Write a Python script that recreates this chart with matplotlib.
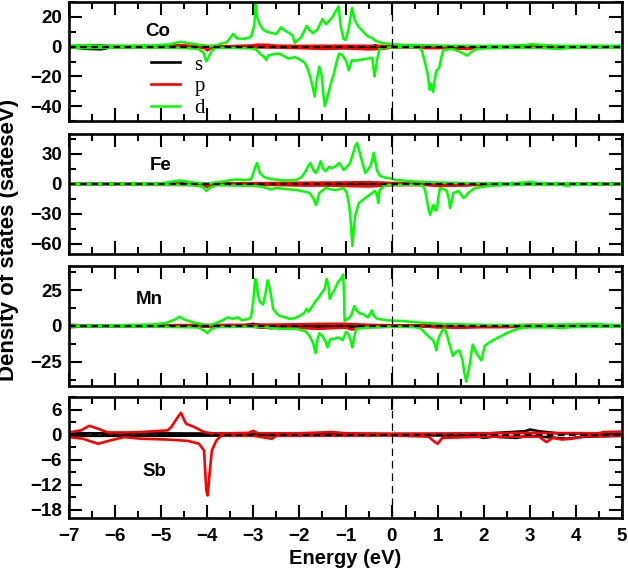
import numpy as np
import matplotlib
matplotlib.use('Agg')
from matplotlib import pyplot as plt
from matplotlib.ticker import MultipleLocator

plt.rcParams['font.family'] = ['Liberation Sans', 'DejaVu Sans']
plt.rcParams['font.weight'] = 'bold'
plt.rcParams['axes.labelweight'] = 'bold'

# (energy eV, DOS) points; spin up > 0, spin down < 0
co_s_up = [(-7, 0.3), (-6.7, 0.6), (-6.4, 0.8), (-6.1, 0.3), (-5, 0.1), (-0.4, 0.2), (-0.35, 0.9), (-0.3, 0.2), (5, 0.1)]
co_s_dn = [(-7, -0.3), (-6.6, -1.5), (-6.3, -1.8), (-6.1, -0.5), (-5, -0.1), (5, -0.1)]
co_p_up = [(-7, 0.2), (-6.5, 0.3), (-5, 0.3), (-4.6, 1.0), (-4.3, 0.5), (-3.5, 0.3), (-3.0, 0.8), (-2.9, 1.3),
           (-2.7, 1.2), (-2.5, 0.6), (-2.0, 0.5), (-1.0, 0.6), (-0.3, 0.5), (0, 0.3), (1, 0.2), (5, 0.2)]
co_p_dn = [(-7, -0.2), (-4.5, -0.3), (-4.05, -1.0), (-4.0, -2.5), (-3.9, -0.8), (-3.5, -0.3), (-2.5, -0.6),
           (-2.0, -1.0), (-1.5, -1.5), (-1.0, -1.2), (-0.5, -1.8), (-0.2, -1.5), (0, -0.6), (0.6, -0.5),
           (0.7, -1.0), (1.1, -1.0), (1.4, -1.4), (1.7, -1.6), (1.8, -0.5), (3, -0.3), (5, -0.3)]
co_d_up = [(-7.0, 0.5), (-6.6, 1.0), (-6.3, 0.5), (-5.8, 0.6), (-5.2, 0.8), (-4.8, 1.5), (-4.6, 3.2), (-4.45, 2.6),
           (-4.3, 1.8), (-4.1, 0.8), (-3.95, 0.3), (-3.8, 0.8), (-3.7, 2.0), (-3.57, 3.0), (-3.5, 6.0),
           (-3.44, 8.5), (-3.35, 5.5), (-3.2, 5.2), (-3.05, 6.5), (-2.98, 14), (-2.95, 28.5), (-2.92, 20),
           (-2.86, 15), (-2.8, 12), (-2.75, 10.5), (-2.65, 9.5), (-2.5, 8.5), (-2.4, 13), (-2.32, 11),
           (-2.24, 9.5), (-2.15, 7.5), (-2.1, 2.5), (-2.03, 4.5), (-1.96, 6.5), (-1.84, 14), (-1.78, 11),
           (-1.7, 9), (-1.6, 12), (-1.5, 18.5), (-1.42, 15), (-1.35, 17.5), (-1.28, 20), (-1.2, 24.5),
           (-1.15, 27), (-1.1, 13), (-1.04, 5), (-1.0, 4.5), (-0.93, 12), (-0.86, 26), (-0.8, 18),
           (-0.71, 13), (-0.64, 11), (-0.57, 8.5), (-0.5, 6.5), (-0.43, 6.0), (-0.35, 4.0), (-0.28, 3.0),
           (-0.15, 2.2), (0.0, 1.8), (0.2, 1.2), (0.5, 1.0), (0.9, 0.8), (1.3, 0.6), (2.0, 0.5), (2.5, 0.6),
           (2.9, 1.0), (3.05, 1.6), (3.3, 1.0), (3.8, 0.5), (4.3, 0.6), (5.0, 0.6)]
co_d_dn = [(-7.0, -0.5), (-6.6, -1.0), (-6.3, -0.8), (-5.5, -0.5), (-4.6, -0.8), (-4.2, -1.5), (-4.08, -4),
           (-4.02, -10), (-3.97, -7), (-3.9, -2.5), (-3.8, -0.8), (-3.5, -0.8), (-3.1, -1.2), (-3.0, -1.3),
           (-2.92, -2.5), (-2.85, -5), (-2.78, -6.5), (-2.72, -9), (-2.68, -6), (-2.55, -5), (-2.45, -4.7),
           (-2.35, -6), (-2.24, -8), (-2.15, -7.5), (-2.1, -7), (-2.0, -8.5), (-1.88, -11), (-1.82, -15),
           (-1.77, -20), (-1.72, -26), (-1.67, -33.5), (-1.62, -22), (-1.57, -13.5), (-1.52, -19),
           (-1.48, -32), (-1.45, -40), (-1.41, -36), (-1.37, -31), (-1.31, -24), (-1.25, -18), (-1.2, -11),
           (-1.14, -4.7), (-1.08, -5.5), (-1.04, -7), (-0.98, -10), (-0.93, -16), (-0.89, -12), (-0.86, -9),
           (-0.78, -9.5), (-0.71, -9), (-0.6, -8.5), (-0.5, -8), (-0.42, -7.5), (-0.37, -20), (-0.34, -14),
           (-0.31, -8), (-0.26, -1.5), (-0.14, -0.6), (0.3, -0.4), (0.6, -0.6), (0.66, -3), (0.72, -10),
           (0.78, -18), (0.83, -29), (0.86, -25), (0.9, -30.5), (0.94, -22), (0.97, -16), (1.01, -15),
           (1.04, -13.5), (1.08, -7), (1.12, -2.4), (1.3, -1.5), (1.45, -3), (1.55, -4.5), (1.64, -6),
           (1.72, -4), (1.8, -2), (2.0, -1.2), (2.6, -0.8), (3.2, -0.8), (3.6, -1.5), (3.9, -0.8),
           (4.5, -0.6), (5.0, -0.6)]

fe_s_up = [(-7, 0.3), (-3, 0.3), (0, 0.2), (5, 0.2)]
fe_s_dn = [(-7, -0.3), (-3, -0.3), (0, -0.2), (5, -0.2)]
fe_p_up = [(-7, 0.5), (-4.5, 0.5), (-3, 0.8), (-2, 1.2), (-1, 1.5), (-0.5, 1.8), (0, 1.0), (1, 0.3), (5, 0.2)]
fe_p_dn = [(-7, -0.5), (-4.1, -1.0), (-4.0, -3), (-3.9, -0.8), (-2.5, -1), (-2, -1.5), (-1.5, -1.5),
           (-1, -2.0), (-0.5, -2.5), (0, -1.2), (0.7, -1.0), (1, -1.8), (1.6, -1.5), (2, -0.5), (5, -0.3)]
fe_d_up = [(-7, 0.5), (-6, 0.5), (-5.0, 0.8), (-4.75, 2.5), (-4.6, 3.5), (-4.4, 2.0), (-4.2, 1.0), (-4.0, 0.5),
           (-3.8, 1.5), (-3.6, 3.0), (-3.4, 4.5), (-3.2, 4.0), (-3.05, 4.5), (-3.0, 11), (-2.95, 18),
           (-2.92, 21), (-2.86, 11), (-2.78, 7.5), (-2.72, 6), (-2.6, 5), (-2.43, 4), (-2.3, 3.5),
           (-2.07, 4), (-1.95, 7), (-1.86, 13), (-1.8, 19), (-1.76, 21), (-1.7, 14), (-1.64, 11),
           (-1.58, 17), (-1.54, 23), (-1.48, 15), (-1.43, 13), (-1.36, 17), (-1.29, 16), (-1.2, 18),
           (-1.14, 21), (-1.08, 17), (-1.04, 14), (-0.97, 17), (-0.9, 21), (-0.84, 30), (-0.79, 38),
           (-0.75, 41), (-0.7, 33), (-0.65, 24), (-0.57, 11), (-0.5, 15), (-0.46, 18), (-0.41, 26),
           (-0.39, 31), (-0.35, 22), (-0.32, 14), (-0.25, 8), (-0.15, 6.5), (-0.07, 6), (0.1, 4), (0.5, 2.5),
           (1.0, 1.5), (1.5, 1.0), (2.0, 0.8), (2.5, 0.7), (2.9, 1.5), (3.0, 2.2), (3.15, 1.0), (4.0, 0.6),
           (5.0, 0.5)]
fe_d_dn = [(-7, -0.5), (-5, -0.6), (-4.3, -1.0), (-4.1, -3), (-4.02, -7), (-3.95, -4), (-3.8, -1.2),
           (-3.4, -1.5), (-3.0, -2), (-2.85, -2.5), (-2.7, -4), (-2.64, -5.5), (-2.5, -4), (-2.3, -5),
           (-2.07, -6), (-1.9, -7.5), (-1.78, -9), (-1.7, -14), (-1.64, -21), (-1.6, -15), (-1.57, -9),
           (-1.43, -4), (-1.3, -5.5), (-1.21, -6), (-1.1, -5), (-1.04, -4), (-0.97, -9), (-0.93, -19),
           (-0.9, -30), (-0.88, -42), (-0.85, -62), (-0.82, -45), (-0.79, -32), (-0.71, -19), (-0.65, -17),
           (-0.57, -14), (-0.45, -10), (-0.36, -7), (-0.31, -12), (-0.29, -19), (-0.26, -6), (-0.14, -1.2),
           (0.3, -0.8), (0.6, -1.0), (0.69, -2.3), (0.73, -7), (0.76, -14), (0.8, -25), (0.84, -31),
           (0.88, -24), (0.91, -21), (0.95, -26), (0.98, -26), (1.02, -12), (1.05, -4), (1.13, -5),
           (1.2, -7), (1.24, -15), (1.27, -24), (1.31, -16), (1.34, -9), (1.45, -7), (1.5, -10),
           (1.56, -14), (1.62, -12), (1.66, -9), (1.75, -6), (1.81, -4), (2.1, -2), (2.5, -1), (3.0, -0.8),
           (3.7, -1), (3.8, -2), (3.9, -1), (4.5, -0.6), (5, -0.6)]

mn_s_up = [(-7, 0.8), (-6.8, 0.5), (-3.2, 0.5), (-3.0, 1.5), (-2.9, 0.8), (-2.5, 0.3), (5, 0.2)]
mn_s_dn = [(-7, -0.8), (-6.8, -0.5), (-3, -0.5), (-2.6, -1.5), (-2.4, -0.5), (5, -0.2)]
mn_p_up = [(-7, 0.3), (-3.0, 0.8), (-2.5, 1.0), (-2.0, 1.2), (-1.5, 1.5), (-1.0, 1.5), (-0.5, 0.8), (0, 0.5),
           (2.5, 0.3), (3, 0.8), (3.5, 0.6), (5, 0.3)]
mn_p_dn = [(-7, -0.3), (-3, -0.5), (-2.6, -1.2), (-2.2, -1.0), (-1.9, -1.5), (-1.6, -2.0), (-1.3, -1.5),
           (-1.0, -1.2), (-0.85, -2.5), (-0.7, -1.0), (0, -0.5), (0.8, -0.5), (1.0, -1.0), (1.5, -1.2),
           (2.0, -0.8), (2.5, -0.8), (3, -0.3), (5, -0.3)]
mn_d_up = [(-7, 0.3), (-6, 0.5), (-5.2, 1.0), (-4.9, 2.0), (-4.7, 4.5), (-4.6, 6.5), (-4.5, 4.5), (-4.3, 2.5),
           (-4.1, 1.2), (-4.0, 0.3), (-3.85, 1.5), (-3.7, 3.5), (-3.55, 6), (-3.45, 5), (-3.33, 6),
           (-3.25, 4), (-3.1, 5), (-3.05, 6), (-3.0, 18), (-2.96, 33), (-2.93, 30), (-2.9, 22), (-2.86, 17),
           (-2.79, 15), (-2.74, 22), (-2.69, 32), (-2.64, 26), (-2.6, 18), (-2.57, 12), (-2.5, 9),
           (-2.43, 7), (-2.3, 6), (-2.22, 5), (-2.1, 5.5), (-2.0, 7), (-1.9, 9), (-1.84, 12), (-1.8, 10),
           (-1.72, 14), (-1.66, 17), (-1.58, 20), (-1.5, 24), (-1.45, 26), (-1.41, 33), (-1.37, 28),
           (-1.34, 19), (-1.3, 22), (-1.26, 24), (-1.2, 28), (-1.16, 31), (-1.1, 33), (-1.05, 36),
           (-1.03, 20), (-1.02, 3.5), (-0.95, 5), (-0.88, 7), (-0.84, 11), (-0.81, 14), (-0.76, 11),
           (-0.7, 9), (-0.6, 8), (-0.52, 6), (-0.46, 9), (-0.43, 11), (-0.38, 7), (-0.31, 5), (-0.1, 4),
           (0.2, 3.5), (0.7, 2.2), (1.2, 1.3), (2.0, 0.8), (3.0, 0.6), (4.0, 1.2), (4.4, 1.5), (4.7, 0.8),
           (5.0, 0.8)]
mn_d_dn = [(-7, -0.3), (-5, -0.5), (-4.2, -1.0), (-4.05, -3.5), (-4.0, -5), (-3.93, -2.5), (-3.8, -0.8),
           (-3.3, -0.5), (-2.8, -0.6), (-2.43, -2), (-2.07, -2), (-1.95, -3), (-1.86, -4), (-1.78, -7),
           (-1.7, -12), (-1.65, -19), (-1.61, -10), (-1.57, -5), (-1.5, -7), (-1.43, -11), (-1.39, -15),
           (-1.35, -11), (-1.32, -9), (-1.25, -9), (-1.17, -8), (-1.1, -9), (-1.06, -10), (-0.99, -4),
           (-0.93, -6), (-0.88, -11), (-0.85, -15), (-0.81, -8), (-0.77, -2), (-0.52, -1), (0, -0.5),
           (0.5, -0.8), (0.62, -1.6), (0.7, -4), (0.76, -6), (0.83, -8), (0.9, -10), (0.94, -13),
           (0.97, -17), (1.0, -11), (1.04, -7), (1.1, -3), (1.15, -1.6), (1.2, -6), (1.25, -12),
           (1.33, -21), (1.4, -18), (1.47, -17), (1.54, -24), (1.58, -33), (1.62, -39), (1.66, -33),
           (1.69, -28), (1.76, -13), (1.8, -16), (1.84, -19), (1.9, -22), (1.95, -24), (2.02, -14),
           (2.1, -12), (2.2, -10), (2.35, -7.5), (2.5, -5), (2.65, -3), (2.78, -1.6), (3.0, -1.0),
           (3.5, -1.0), (3.7, -1.5), (3.9, -0.8), (4.5, -0.6), (5, -0.5)]

sb_s_up = [(-7, 0.3), (-5.5, 0.3), (-3, 0.2), (0, 0.1), (2, 0.2), (2.9, 0.8), (3.0, 1.2), (3.2, 0.8),
           (3.6, 0.3), (5, 0.2)]
sb_s_dn = [(-7, -0.3), (-5.5, -0.3), (0, -0.1), (1.8, -0.3), (2.0, -0.8), (2.2, -0.5), (2.7, -0.8),
           (3.0, -0.3), (3.8, -1.0), (4.2, -0.5), (5, -0.3)]
sb_p_up = [(-7, 0.5), (-6.74, 1.0), (-6.56, 2.1), (-6.37, 1.4), (-6.16, 0.5), (-5.73, 0.5), (-5.44, 0.6),
           (-4.86, 1.0), (-4.78, 1.8), (-4.71, 3.0), (-4.62, 4.5), (-4.57, 5.2), (-4.5, 3.5), (-4.46, 2.6),
           (-4.28, 1.8), (-4.07, 0.6), (-3.86, 0.2), (-3.5, 0.3), (-3.1, 0.4), (-3.0, 0.9), (-2.9, 0.3),
           (-2.0, 0.3), (-1.3, 0.6), (-1.0, 0.3), (0, 0.2), (1, 0.2), (2, 0.3), (3, 0.4), (4.5, 0.3),
           (4.6, 0.6), (5, 0.7)]
sb_p_dn = [(-7, -0.6), (-6.7, -1.0), (-6.37, -2.2), (-6.1, -1.4), (-5.8, -0.6), (-5.44, -1.0), (-4.86, -1.2),
           (-4.43, -1.5), (-4.18, -2.2), (-4.07, -3.8), (-4.02, -13.4), (-3.99, -14.6), (-3.95, -9.4),
           (-3.9, -3.8), (-3.8, -1.4), (-3.69, -0.2), (-3.0, -0.3), (-2.6, -1.0), (-2.5, -0.3), (0, -0.2),
           (0.8, -0.5), (0.94, -1.8), (1.0, -2.2), (1.1, -0.8), (2.0, -0.5), (3.2, -0.5), (3.36, -1.8),
           (3.5, -0.8), (3.7, -1.2), (3.9, -1.0), (4.2, -0.4), (5, -0.3)]

elements = ['Co', 'Fe', 'Mn', 'Sb']
ylims = [(-50, 30), (-70, 50), (-42, 42), (-20, 9)]
ymajor = [20, 30, 25, 6]
yminor = [10, 15, 12.5, 3]
name_pos = [(0.160, 0.752), (0.165, 0.737), (0.146, 0.717), (0.155, 0.384)]
curves = [
    [(co_s_up, co_s_dn), (co_p_up, co_p_dn), (co_d_up, co_d_dn)],
    [(fe_s_up, fe_s_dn), (fe_p_up, fe_p_dn), (fe_d_up, fe_d_dn)],
    [(mn_s_up, mn_s_dn), (mn_p_up, mn_p_dn), (mn_d_up, mn_d_dn)],
    [(sb_s_up, sb_s_dn), (sb_p_up, sb_p_dn)],
]
colors = ['black', '#ff0000', '#00ff00']
orb_labels = ['s', 'p', 'd']

W, H = 628, 568
fig = plt.figure(figsize=(W / 100, H / 100), dpi=100)
# panel boxes in pixels: (top, bottom)
boxes = [(2, 121), (134, 254), (266, 386), (397, 518)]
left, right = 69, 622

axes = []
for i, (top, bot) in enumerate(boxes):
    ax = fig.add_axes([left / W, 1 - bot / H, (right - left) / W, (bot - top) / H])
    axes.append(ax)
    for j, (up, dn) in enumerate(curves[i]):
        for pts in (up, dn):
            e, v = zip(*pts)
            ax.plot(e, v, color=colors[j], lw=1.8 if j == 2 else 1.9,
                    label=orb_labels[j] if pts is up else None)
    ax.axhline(0, color='black', lw=1.6, ls=(0, (3, 2)), zorder=5)
    ax.axvline(0, color='black', lw=0.9, ls=(0, (6, 4)), zorder=5)
    ax.set_xlim(-7, 5)
    ax.set_ylim(*ylims[i])
    ax.xaxis.set_major_locator(MultipleLocator(1))
    ax.xaxis.set_minor_locator(MultipleLocator(0.5))
    ax.yaxis.set_major_locator(MultipleLocator(ymajor[i]))
    ax.yaxis.set_minor_locator(MultipleLocator(yminor[i]))
    ax.tick_params(which='both', direction='in', top=True, right=True, width=1.5, labelsize=13.5)
    ax.tick_params(which='major', length=9.5, pad=5)
    ax.tick_params(which='minor', length=5)
    ax.tick_params(axis='x', pad=7)
    for sp in ax.spines.values():
        sp.set_linewidth(1.9)
    if i < 3:
        ax.set_xticklabels([])
    ax.text(name_pos[i][0], name_pos[i][1], elements[i], transform=ax.transAxes,
            ha='center', va='center', fontsize=13.5, fontweight='bold')

axes[0].legend(loc='center', bbox_to_anchor=(0.197, 0.29), frameon=False,
               prop={'family': 'Liberation Serif', 'size': 15, 'weight': 'normal'},
               handlelength=1.4, handletextpad=0.7, labelspacing=0.1, borderpad=0)

axes[3].set_xlabel('Energy (eV)', fontsize=14.5, labelpad=3)
fig.text(9 / W, 1 - 240 / H, 'Density of states (sateseV)', rotation=90,
         ha='center', va='center', fontsize=16, fontweight='bold')

fig.savefig('out.png', dpi=100)
